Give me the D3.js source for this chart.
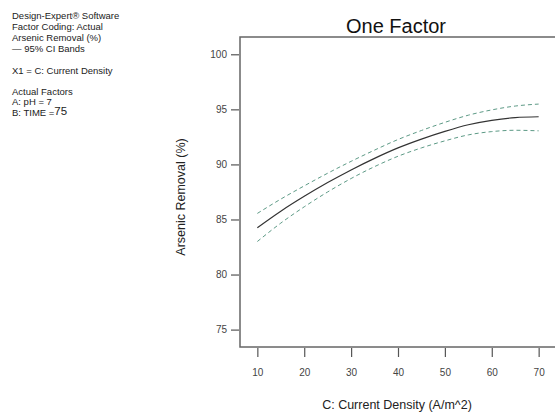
<!DOCTYPE html>
<html>
<head>
<meta charset="utf-8">
<script src="https://cdn.jsdelivr.net/npm/d3@7"></script>
<style>
  body { margin: 0; background: #fff; }
  text { font-family: "Liberation Sans", Arial, sans-serif; }
</style>
</head>
<body>
<div id="chart"></div>
<script>
// data
var density = [10, 15, 20, 25, 30, 35, 40, 45, 50, 55, 60, 65, 70];
var removal = [84.25, 85.75, 87.1, 88.35, 89.5, 90.55, 91.5, 92.3, 93.0, 93.6, 94.0, 94.25, 94.33];
var upperCI = [85.55, 86.85, 88.05, 89.2, 90.28, 91.3, 92.26, 93.08, 93.82, 94.47, 94.95, 95.3, 95.48];
var lowerCI = [83.0, 84.67, 86.15, 87.5, 88.72, 89.8, 90.74, 91.5, 92.14, 92.68, 92.98, 93.1, 93.05];
var xTicks = [10, 20, 30, 40, 50, 60, 70];
var yTicks = [75, 80, 85, 90, 95, 100];
var infoLines = ["Design-Expert\u00ae Software", "Factor Coding: Actual", "Arsenic Removal (%)", "\u2014 95% CI Bands"];

var width = 555, height = 412;
var svg = d3.select("#chart")
  .append("svg")
    .attr("width", width)
    .attr("height", height);

var x = d3.scaleLinear().domain([6.3, 73.7]).range([240, 556]);
var y = d3.scaleLinear().domain([73.42, 101.57]).range([347, 37]);

// info text top-left
var info = svg.append("g").attr("font-size", "9.5px").attr("fill", "#222");
infoLines.forEach(function(t, i) {
  info.append("text").attr("x", 12).attr("y", 18.6 + i * 11).text(t);
});
info.append("text").attr("x", 12).attr("y", 73.6).text("X1 = C: Current Density");
info.append("text").attr("x", 12).attr("y", 94.5).text("Actual Factors");
info.append("text").attr("x", 12).attr("y", 105).text("A: pH = 7");
var tm = info.append("text").attr("x", 12).attr("y", 115.5).text("B: TIME =");
tm.append("tspan").attr("font-size", "11.5px").attr("dy", -1).text("75");

// title
svg.append("text")
  .attr("x", 396).attr("y", 33)
  .attr("text-anchor", "middle")
  .attr("font-size", "20px")
  .attr("fill", "#111")
  .text("One Factor");

// frame
svg.append("rect")
  .attr("x", x.range()[0]).attr("y", y.range()[1])
  .attr("width", x.range()[1] - x.range()[0])
  .attr("height", y.range()[0] - y.range()[1])
  .attr("fill", "none")
  .attr("stroke", "#666")
  .attr("stroke-width", 1.5);

// axes
var yAxis = svg.append("g")
  .attr("transform", "translate(" + (x.range()[0] - 1) + ",0)")
  .call(d3.axisLeft(y).tickValues(yTicks).tickSize(8).tickSizeOuter(0).tickPadding(4));
var xAxis = svg.append("g")
  .attr("transform", "translate(0," + (y.range()[0] + 1) + ")")
  .call(d3.axisBottom(x).tickValues(xTicks).tickSize(9).tickSizeOuter(0).tickPadding(12));
[yAxis, xAxis].forEach(function(a) {
  a.select(".domain").remove();
  a.selectAll(".tick line").attr("stroke", "#555").attr("stroke-width", 1.2);
  a.selectAll(".tick text").attr("fill", "#444").attr("font-size", "10px")
    .attr("font-family", "Liberation Sans, Arial, sans-serif");
});

// axis titles
svg.append("text")
  .attr("x", 397).attr("y", 409)
  .attr("text-anchor", "middle")
  .attr("font-size", "12.5px")
  .attr("fill", "#222")
  .text("C: Current Density (A/m^2)");
svg.append("text")
  .attr("transform", "translate(185,197) rotate(-90)")
  .attr("text-anchor", "middle")
  .attr("font-size", "12.5px")
  .attr("fill", "#222")
  .text("Arsenic Removal (%)");

// lines
var line = d3.line()
  .x(function(d) { return x(d[0]); })
  .y(function(d) { return y(d[1]); })
  .curve(d3.curveMonotoneX);

svg.append("path")
  .datum(d3.zip(density, upperCI))
  .attr("d", line)
  .attr("fill", "none")
  .attr("stroke", "#5d9a86")
  .attr("stroke-width", 1)
  .attr("stroke-dasharray", "4,3");
svg.append("path")
  .datum(d3.zip(density, lowerCI))
  .attr("d", line)
  .attr("fill", "none")
  .attr("stroke", "#5d9a86")
  .attr("stroke-width", 1)
  .attr("stroke-dasharray", "4,3");
svg.append("path")
  .datum(d3.zip(density, removal))
  .attr("d", line)
  .attr("fill", "none")
  .attr("stroke", "#333")
  .attr("stroke-width", 1.2);
</script>
</body>
</html>
